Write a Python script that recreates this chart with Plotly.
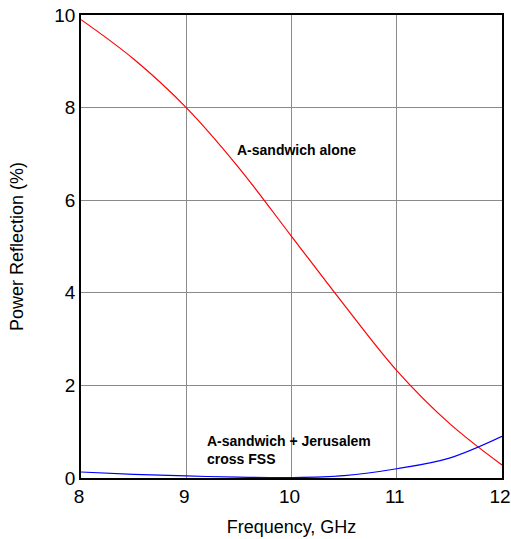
import plotly.graph_objects as go

freq = [8, 8.5, 9, 9.5, 10, 10.5, 11, 11.5, 12]
sandwich_alone = [9.9, 9.05, 8.0, 6.7, 5.22, 3.74, 2.32, 1.18, 0.28]
sandwich_fss = [0.13, 0.08, 0.045, 0.018, 0.008, 0.05, 0.2, 0.43, 0.9]

x_ticks = [8, 9, 10, 11, 12]
y_ticks = [0, 2, 4, 6, 8, 10]

fig = go.Figure()
fig.add_trace(go.Scatter(x=freq, y=sandwich_alone, mode="lines",
                         line=dict(color="#ff0000", width=1.2, shape="spline"),
                         showlegend=False))
fig.add_trace(go.Scatter(x=freq, y=sandwich_fss, mode="lines",
                         line=dict(color="#0000ff", width=1.2, shape="spline"),
                         showlegend=False))

fig.add_annotation(x=10.05, y=7.09, xref="x", yref="y", text="<b>A-sandwich alone</b>",
                   showarrow=False, font=dict(size=14, color="black"), xanchor="center", yanchor="middle")
fig.add_annotation(x=9.18, y=0.6, xref="x", yref="y",
                   text="<b>A-sandwich + Jerusalem<br>cross FSS</b>", align="left",
                   showarrow=False, font=dict(size=14, color="black"), xanchor="left", yanchor="middle")

fig.update_layout(
    width=511, height=539,
    margin=dict(l=81, r=9, t=15, b=61, autoexpand=False),
    paper_bgcolor="white", plot_bgcolor="white",
    font=dict(family="Liberation Sans, Arial, sans-serif", size=18, color="black"),
)
fig.update_xaxes(range=[8, 12], tickvals=x_ticks, showgrid=True, gridcolor="#8a8a8a", gridwidth=1,
                 showline=True, linecolor="black", linewidth=1.5, mirror=True, ticks="",
                 zeroline=False, automargin=False, ticklabeloverflow="allow", ticklabelshift=-2,
                 title=dict(text="Frequency, GHz", font=dict(size=18), standoff=15),
                 tickfont=dict(size=19))
fig.update_yaxes(range=[0, 10], tickvals=y_ticks, showgrid=True, gridcolor="#8a8a8a", gridwidth=1,
                 showline=True, linecolor="black", linewidth=1.5, mirror=True, ticks="",
                 zeroline=False, automargin=False, ticklabeloverflow="allow",
                 title=dict(text="Power Reflection (%)", font=dict(size=18), standoff=26),
                 tickfont=dict(size=19))

fig.write_html("out.html")
